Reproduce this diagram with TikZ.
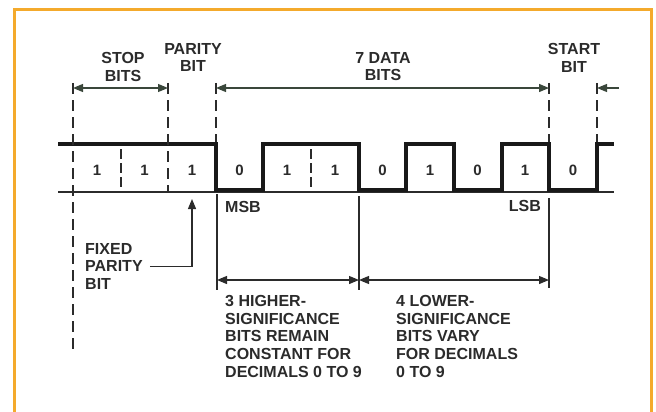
\documentclass[tikz,border=0pt]{standalone}
\usepackage{fontspec}
\setmainfont{Liberation Sans}
\usetikzlibrary{arrows.meta}
\definecolor{frameor}{HTML}{F4AA2C}
\definecolor{ink}{HTML}{2B2B2B}
\definecolor{dimink}{HTML}{3A473B}
\begin{document}
\begin{tikzpicture}[x=1pt,y=-1pt,
  lbl/.style={font=\fontsize{16}{17.75}\selectfont\bfseries, text=ink, inner sep=0pt, align=center},
  lbll/.style={lbl, align=left, anchor=north west},
  bitlbl/.style={font=\fontsize{15}{17}\selectfont\bfseries, text=ink, inner sep=0pt},
  dashline/.style={draw=ink, line width=1.5pt, dash pattern=on 11pt off 6pt},
  thinline/.style={draw=ink, line width=1.2pt},
  wave/.style={draw=black!90, line width=3.6pt, line join=miter},
  dimarrow/.style={draw=dimink, line width=1.2pt, {Triangle[length=10pt,width=8pt]}-{Triangle[length=10pt,width=8pt]}},
  onearrow/.style={draw=dimink, line width=1.2pt, -{Triangle[length=10pt,width=8pt]}},
]
\useasboundingbox (0,0) rectangle (656,412);
% frame
\draw[frameor, line width=3pt] (14,412) -- (14,10) -- (651,10) -- (651,412);

% baseline
\coordinate (bl0) at (58,192);
\coordinate (bl1) at (614,192);
\draw[thinline] (bl0) -- (bl1);

% waveform
\draw[wave] (58,144) -- (216,144) -- (216,190) -- (263,190) -- (263,144)
  -- (359,144) -- (359,190) -- (406,190) -- (406,144) -- (454,144)
  -- (454,190) -- (502,190) -- (502,144) -- (549,144) -- (549,190)
  -- (597,190) -- (597,144) -- (614,144);

% cell dividers
\coordinate (c1t) at (121,149); \coordinate (c1b) at (121,192);
\coordinate (c2t) at (311,149); \coordinate (c2b) at (311,192);
\draw[dashline, dash pattern=on 10pt off 4pt] (c1t) -- (c1b);
\draw[dashline, dash pattern=on 10pt off 4pt] (c2t) -- (c2b);

% dashed extension lines
\coordinate (d0t) at (73,83);  \coordinate (d0b) at (73,353);
\coordinate (d1t) at (168,83); \coordinate (d1b) at (168,192);
\coordinate (d2t) at (216,83); \coordinate (d2b) at (216,142);
\coordinate (d3t) at (549,83); \coordinate (d3b) at (549,142);
\coordinate (d4t) at (597,83); \coordinate (d4b) at (597,142);
\draw[dashline] (d0t) -- (d0b);
\draw[dashline] (d1t) -- (d1b);
\draw[dashline] (d2t) -- (d2b);
\draw[dashline] (d3t) -- (d3b);
\draw[dashline] (d4t) -- (d4b);

% top dimension arrows
\coordinate (sa) at (73,88);  \coordinate (sb) at (168,88);
\coordinate (da) at (216,88); \coordinate (db) at (549,88);
\coordinate (st0) at (619,88); \coordinate (st1) at (597,88);
\draw[dimarrow] (sa) -- (sb);
\draw[dimarrow] (da) -- (db);
\draw[onearrow] (st0) -- (st1);

% lower solid extension lines
\coordinate (m0t) at (217,194); \coordinate (m0b) at (217,290);
\coordinate (m1t) at (359,196); \coordinate (m1b) at (359,290);
\coordinate (m2t) at (549,198); \coordinate (m2b) at (549,288);
\draw[thinline] (m0t) -- (m0b);
\draw[thinline] (m1t) -- (m1b);
\draw[thinline] (m2t) -- (m2b);
\coordinate (h0) at (217,280); \coordinate (h1) at (359,280); \coordinate (h2) at (549,280);
\draw[dimarrow, draw=ink] (h0) -- (h1);
\draw[dimarrow, draw=ink] (h1) -- (h2);

% top labels
\node[lbl, anchor=north] (stop) at (123,52) {STOP\\BITS};
\node[lbl, anchor=north] (parity) at (193,43) {PARITY\\BIT};
\node[lbl, anchor=north] (data) at (383,52) {7 DATA\\BITS};
\node[lbl, anchor=north] (start) at (574,43) {START\\BIT};

% bit values
\foreach \x/\v [count=\i] in {97/1,144.5/1,192/1,239.5/0,287/1,335/1,382.5/0,430/1,477.5/0,525/1,573/0}
  \node[bitlbl] (bit\i) at (\x,170) {\v};

% MSB / LSB
\node[lbl, anchor=north west] (msb) at (225,201) {MSB};
\node[lbl, anchor=north east] (lsb) at (541,200) {LSB};

% fixed parity
\node[lbll] (fixed) at (85,243) {FIXED\\PARITY\\BIT};
\coordinate (fp2) at (192,199);
\draw[onearrow, draw=ink] ([xshift=7pt]fixed.east) -| (fp2);

% lower notes
\node[lbll] (high) at (225,295) {3 HIGHER-\\SIGNIFICANCE\\BITS REMAIN\\CONSTANT FOR\\DECIMALS 0 TO 9};
\node[lbll] (low) at (396,295) {4 LOWER-\\SIGNIFICANCE\\BITS VARY\\FOR DECIMALS\\0 TO 9};
\end{tikzpicture}
\end{document}
